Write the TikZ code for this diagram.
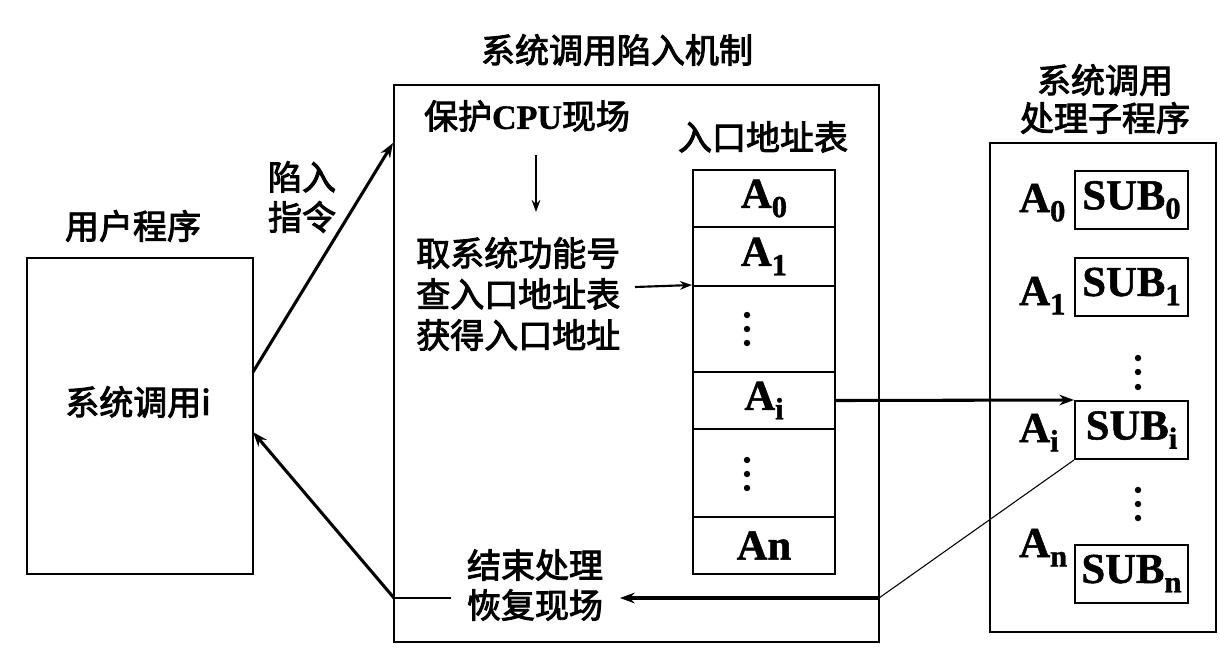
\documentclass[tikz,border=0pt]{standalone}
\usepackage{fontspec}
\setmainfont{Noto Sans CJK SC}
\newfontfamily\cjkm{Noto Sans CJK SC}[RawFeature={embolden=2.7}]
\newfontfamily\tms{Liberation Serif}[BoldFeatures={RawFeature={embolden=1.2}}]
\usetikzlibrary{arrows.meta}
\newcommand\Sb[1]{\raisebox{-7pt}{\fontsize{23}{23}\selectfont #1}}
\begin{document}
\begin{tikzpicture}[x=0.75pt,y=-0.75pt,
  frame/.style={draw,line width=1.5pt,inner sep=0pt},
  cjkt/.style={font=\fontsize{25.5}{30}\selectfont\cjkm,inner sep=0pt},
  alab/.style={font=\fontsize{32}{32}\selectfont\tms\bfseries,inner sep=0pt},
  cell/.style={frame,alab,minimum width=106.5pt},
  subbox/.style={frame,alab,minimum width=84.75pt,minimum height=43.5pt},
  thickarrow/.style={line width=2.3pt,-{Stealth[length=11pt,width=8pt]}},
  thinarrow/.style={line width=1.6pt,-{Stealth[length=9pt,width=6.5pt]}},
  hair/.style={line width=0.8pt},
  dotc/.style={fill=black}
]
\useasboundingbox[fill=white] (0,0) rectangle (1220,657);

% left: user program
\node[frame,minimum width=169.5pt,minimum height=237pt] (user) at (140,416) {};
\node[cjkt] (usert) at (133,226) {用户程序};
\node[cjkt] (call) at (138,402) {系统调用i};

% middle: trap mechanism
\node[frame,minimum width=363.75pt,minimum height=417.75pt] (mech) at (636.5,363.5) {};
\node[cjkt] (mecht) at (617,50) {系统调用陷入机制};
\node[cjkt] (cpu) at (527,116) {保护{\tms\bfseries CPU}现场};
\node[cjkt] (tabt) at (763,137) {入口地址表};
\node[cjkt,anchor=west,align=left,font=\fontsize{25.5}{30.75}\selectfont\cjkm] (func) at (416,294) {取系统功能号\\查入口地址表\\获得入口地址};
\node[cjkt,align=center,font=\fontsize{25.5}{30}\selectfont\cjkm] (restore) at (535,585) {结束处理\\恢复现场};

% entry address table
\node[cell,minimum height=42.75pt] (a0) at (764,198.5) {A\Sb{0}};
\node[cell,minimum height=44.25pt] (a1) at (764,256.5) {A\Sb{1}};
\node[cell,minimum height=64.5pt] (d1) at (764,329) {};
\node[cell,minimum height=42.75pt] (ai) at (764,400.5) {A\Sb{i}};
\node[cell,minimum height=66pt] (d2) at (764,473) {};
\node[cell,minimum height=42.75pt] (an) at (764,545.5) {An};
\foreach \yy in {315,329,343,460,474,488} \fill[dotc] (747,\yy) circle[radius=2.4pt];

% right: handler subprograms
\node[frame,minimum width=169.5pt,minimum height=366.75pt] (handler) at (1103,387.5) {};
\node[cjkt,align=center,font=\fontsize{25.5}{28.5}\selectfont\cjkm] (handt) at (1105,99) {系统调用\\处理子程序};
\node[subbox] (sub0) at (1131.5,200) {SUB\Sb{0}};
\node[subbox] (sub1) at (1131.5,286.5) {SUB\Sb{1}};
\node[subbox] (subi) at (1131.5,430) {SUB\Sb{i}};
\node[subbox] (subn) at (1131.5,573.5) {SUB\Sb{n}};
\node[alab,anchor=base west] (r0) at (1019,212) {A\Sb{0}};
\node[alab,anchor=base west] (r1) at (1019,305) {A\Sb{1}};
\node[alab,anchor=base west] (ri) at (1019,442) {A\Sb{i}};
\node[alab,anchor=base west] (rn) at (1019,557) {A\Sb{n}};
\foreach \yy in {358,372,387,490,504,518} \fill[dotc] (1138,\yy) circle[radius=2.4pt];

% trap label
\node[cjkt,align=left,font=\fontsize{25.5}{30}\selectfont\cjkm] (trapt) at (302,197) {陷入\\指令};

% connector coordinates
\coordinate (trapS) at (253,372);
\coordinate (trapE) at (393,143);
\coordinate (retS) at (394,598);
\coordinate (retE) at (253,432);
\coordinate (retL) at (451,598);
\coordinate (cpuS) at (536,155);
\coordinate (funcN) at (536,212);
\coordinate (lookS) at (635,287);
\coordinate (backC) at (879,598);
\coordinate (backE) at (620,598);

\draw[thickarrow] (trapS) -- (trapE);
\draw[thickarrow] (retS) -- (retE);
\draw[hair] (retS) -- (retL);
\draw[thinarrow] (cpuS) -- (funcN);
\draw[thinarrow] (lookS) -- (d1.north west);
\draw[thickarrow] (ai.east) -- (subi.north west);
\draw[hair] (subi.south west) -- (backC);
\draw[thickarrow] (backC) -- (backE);
\end{tikzpicture}
\end{document}
